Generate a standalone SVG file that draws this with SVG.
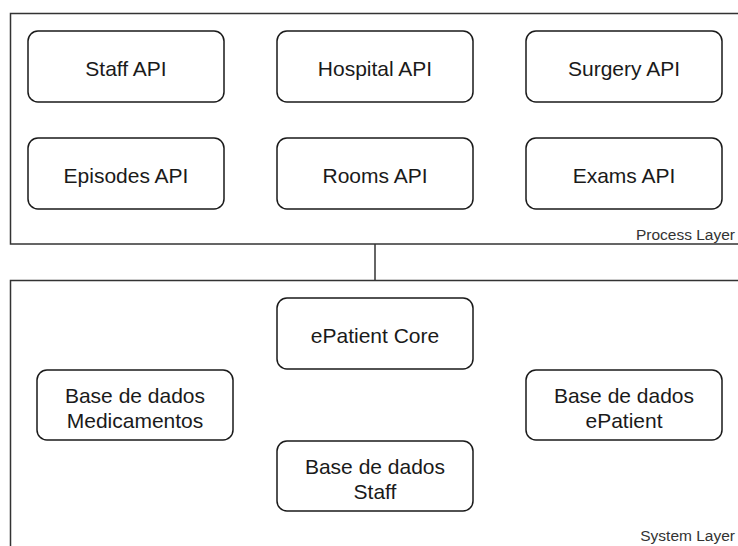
<svg xmlns="http://www.w3.org/2000/svg" width="738" height="546" viewBox="0 0 738 546">
  <style>
    .layer { fill: #ffffff; stroke: #333333; stroke-width: 1.5; }
    .node rect { fill: #ffffff; stroke: #1a1a1a; stroke-width: 1.5; }
    .node text { font-family: "Liberation Sans", Arial, sans-serif; font-size: 21px; fill: #1a1a1a; text-anchor: middle; }
    .label { font-family: "Liberation Sans", Arial, sans-serif; font-size: 15.5px; fill: #333333; text-anchor: end; }
    .link { stroke: #333333; stroke-width: 1.5; fill: none; }
  </style>

  <!-- layer containers -->
  <g id="process-layer">
    <rect class="layer" x="10.5" y="13.5" width="740" height="230.5"/>
    <text class="label" x="735" y="240">Process Layer</text>
  </g>
  <g id="system-layer">
    <rect class="layer" x="10.5" y="280.5" width="740" height="280"/>
    <text class="label" x="735" y="541">System Layer</text>
  </g>

  <!-- connectors -->
  <g id="connectors">
    <line class="link" x1="375" y1="244" x2="375" y2="280.5"/>
  </g>

  <!-- process layer services -->
  <g id="staff-api" class="node">
    <rect x="28" y="31" width="196" height="71" rx="10"/>
    <text x="126" y="76">Staff API</text>
  </g>
  <g id="hospital-api" class="node">
    <rect x="277" y="31" width="196" height="71" rx="10"/>
    <text x="375" y="76">Hospital API</text>
  </g>
  <g id="surgery-api" class="node">
    <rect x="526" y="31" width="196" height="71" rx="10"/>
    <text x="624" y="76">Surgery API</text>
  </g>
  <g id="episodes-api" class="node">
    <rect x="28" y="138" width="196" height="71" rx="10"/>
    <text x="126" y="183">Episodes API</text>
  </g>
  <g id="rooms-api" class="node">
    <rect x="277" y="138" width="196" height="71" rx="10"/>
    <text x="375" y="183">Rooms API</text>
  </g>
  <g id="exams-api" class="node">
    <rect x="526" y="138" width="196" height="71" rx="10"/>
    <text x="624" y="183">Exams API</text>
  </g>

  <!-- system layer components -->
  <g id="epatient-core" class="node">
    <rect x="277" y="298" width="196" height="71" rx="10"/>
    <text x="375" y="343">ePatient Core</text>
  </g>
  <g id="db-medicamentos" class="node">
    <rect x="37" y="370" width="196" height="70" rx="10"/>
    <text x="135" y="403">Base de dados</text>
    <text x="135" y="428">Medicamentos</text>
  </g>
  <g id="db-epatient" class="node">
    <rect x="526" y="370" width="196" height="70" rx="10"/>
    <text x="624" y="403">Base de dados</text>
    <text x="624" y="428">ePatient</text>
  </g>
  <g id="db-staff" class="node">
    <rect x="277" y="441" width="196" height="70" rx="10"/>
    <text x="375" y="474">Base de dados</text>
    <text x="375" y="499">Staff</text>
  </g>
</svg>
